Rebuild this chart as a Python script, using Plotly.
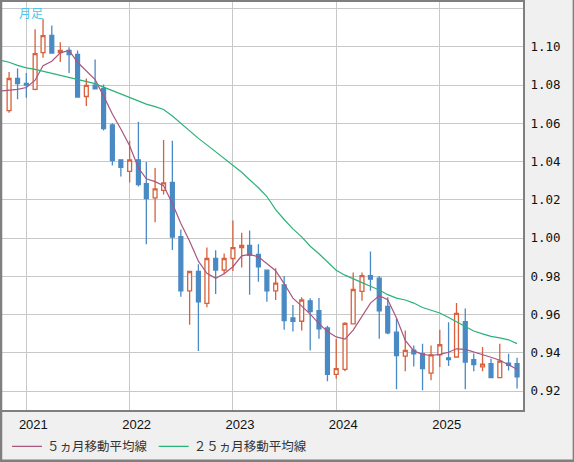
"""Monthly candlestick chart with 5- and 25-month moving averages."""
import plotly.graph_objects as go

# candles: Nov 2020 .. Oct 2025 (monthly)
DATES = [f"{y}-{m:02d}-01" for y in range(2020, 2026) for m in range(1, 13)]
DATES = DATES[DATES.index("2020-11-01"):DATES.index("2025-10-01") + 1]

OPEN = [1.0666, 1.0834, 1.0808, 1.0777, 1.0969, 1.1059, 1.0969, 1.0981, 1.0960, 1.0740,
        1.0799, 1.0782, 1.0591, 1.0409, 1.0348, 1.0409, 1.0284, 1.0210, 1.0249, 1.0291,
        1.0007, 0.9724, 0.9825, 0.9658, 0.9893, 0.9833, 0.9893, 0.9950, 0.9962, 0.9915,
        0.9832, 0.9724, 0.9755, 0.9582, 0.9565, 0.9672, 0.9620, 0.9530, 0.9287, 0.9313,
        0.9551, 0.9721, 0.9804, 0.9790, 0.9643, 0.9508, 0.9383, 0.9414, 0.9395, 0.9294,
        0.9389, 0.9374, 0.9378, 0.9563, 0.9364, 0.9326, 0.9343, 0.9270, 0.9346, 0.9343]
HIGH = [1.0868, 1.0886, 1.0863, 1.1091, 1.1146, 1.1111, 1.1023, 1.0998, 1.0981, 1.0834,
        1.0934, 1.0803, 1.0600, 1.0409, 1.0509, 1.0608, 1.0397, 1.0366, 1.0513, 1.0508,
        1.0045, 0.9825, 0.9863, 0.9950, 0.9936, 0.9919, 1.0092, 1.0028, 1.0040, 0.9967,
        0.9832, 0.9842, 0.9802, 0.9650, 0.9690, 0.9685, 0.9686, 0.9542, 0.9473, 0.9560,
        0.9820, 0.9820, 0.9929, 0.9802, 0.9690, 0.9580, 0.9516, 0.9438, 0.9447, 0.9438,
        0.9520, 0.9560, 0.9660, 0.9632, 0.9396, 0.9430, 0.9369, 0.9447, 0.9395, 0.9374]
LOW = [1.0655, 1.0726, 1.0733, 1.0772, 1.0943, 1.0967, 1.0920, 1.0863, 1.0733, 1.0690,
       1.0780, 1.0562, 1.0379, 1.0322, 1.0291, 1.0270, 0.9967, 1.0083, 1.0227, 0.9937,
       0.9693, 0.9547, 0.9409, 0.9638, 0.9707, 0.9811, 0.9828, 0.9846, 0.9703, 0.9771,
       0.9667, 0.9676, 0.9521, 0.9511, 0.9516, 0.9412, 0.9473, 0.9251, 0.9265, 0.9303,
       0.9551, 0.9672, 0.9724, 0.9473, 0.9497, 0.9209, 0.9303, 0.9329, 0.9204, 0.9256,
       0.9326, 0.9331, 0.9378, 0.9209, 0.9303, 0.9303, 0.9270, 0.9270, 0.9308, 0.9213]
CLOSE = [1.0834, 1.0808, 1.0799, 1.0964, 1.1058, 1.0967, 1.0981, 1.0959, 1.0737, 1.0798,
         1.0780, 1.0572, 1.0405, 1.0369, 1.0408, 1.0279, 1.0206, 1.0257, 1.0288, 1.0005,
         0.9724, 0.9825, 0.9667, 0.9893, 0.9833, 0.9893, 0.9950, 0.9962, 0.9910, 0.9849,
         0.9724, 0.9764, 0.9568, 0.9565, 0.9676, 0.9615, 0.9525, 0.9287, 0.9317, 0.9554,
         0.9731, 0.9804, 0.9785, 0.9620, 0.9504, 0.9386, 0.9412, 0.9395, 0.9317, 0.9389,
         0.9442, 0.9365, 0.9606, 0.9352, 0.9339, 0.9341, 0.9270, 0.9357, 0.9334, 0.9274]

# moving averages start one month earlier (Oct 2020)
MA_DATES = ["2020-10-01"] + DATES
MA5 = [1.0768, 1.0772, 1.0777, 1.0787, 1.0825, 1.0901, 1.0924, 1.0968, 1.0981, 1.0919,
       1.0875, 1.0828, 1.0742, 1.0648, 1.0570, 1.0482, 1.0367, 1.0310, 1.0295, 1.0274,
       1.0180, 1.0076, 0.9983, 0.9879, 0.9816, 0.9790, 0.9813, 0.9850, 0.9907, 0.9915,
       0.9902, 0.9866, 0.9829, 0.9762, 0.9686, 0.9644, 0.9602, 0.9553, 0.9511, 0.9483,
       0.9472, 0.9519, 0.9589, 0.9660, 0.9699, 0.9678, 0.9582, 0.9465, 0.9410, 0.9392,
       0.9386, 0.9392, 0.9403, 0.9421, 0.9418, 0.9405, 0.9390, 0.9377, 0.9361, 0.9335,
       0.9314]
MA25 = [1.0929, 1.0919, 1.0903, 1.0890, 1.0882, 1.0872, 1.0859, 1.0849, 1.0838, 1.0828,
        1.0817, 1.0807, 1.0789, 1.0771, 1.0750, 1.0734, 1.0716, 1.0700, 1.0687, 1.0672,
        1.0638, 1.0599, 1.0557, 1.0521, 1.0487, 1.0451, 1.0412, 1.0378, 1.0344, 1.0305,
        1.0263, 1.0217, 1.0149, 1.0097, 1.0048, 1.0006, 0.9957, 0.9918, 0.9876, 0.9832,
        0.9806, 0.9785, 0.9767, 0.9748, 0.9728, 0.9704, 0.9686, 0.9676, 0.9660, 0.9637,
        0.9621, 0.9608, 0.9585, 0.9563, 0.9540, 0.9514, 0.9499, 0.9486, 0.9478, 0.9468,
        0.9448]

# price axis: gridlines up to 1.12, labels only to 1.10
Y_TICKS = [0.92, 0.94, 0.96, 0.98, 1.00, 1.02, 1.04, 1.06, 1.08, 1.10, 1.12]
Y_LABELS = ["0.92", "0.94", "0.96", "0.98", "1.00", "1.02", "1.04", "1.06", "1.08", "1.10", ""]

RED = "#d9603b"
BLUE = "#4a8ac4"
PURPLE = "#a8577f"
GREEN = "#2bb27a"
GRID = "#c8c8c8"

W, H = 574, 462
M = dict(l=1, r=51, t=0, b=51)
PW, PH = W - M["l"] - M["r"], H - M["t"] - M["b"]

fig = go.Figure()
fig.add_trace(go.Candlestick(
    x=DATES, open=OPEN, high=HIGH, low=LOW, close=CLOSE,
    increasing=dict(line=dict(color=RED, width=1.3), fillcolor="white"),
    decreasing=dict(line=dict(color=BLUE, width=1.3), fillcolor=BLUE),
    whiskerwidth=0, showlegend=False, hoverinfo="skip",
))
fig.add_trace(go.Scatter(x=MA_DATES, y=MA5, mode="lines", name="５ヵ月移動平均線",
                         line=dict(color=PURPLE, width=1.2), legend="legend"))
fig.add_trace(go.Scatter(x=MA_DATES, y=MA25, mode="lines", name="２５ヵ月移動平均線",
                         line=dict(color=GREEN, width=1.2), legend="legend2"))

fig.add_annotation(text="月足", xref="paper", yref="paper", x=15 / PW, y=1 - 0.5 / PH,
                   xanchor="left", yanchor="top", showarrow=False,
                   font=dict(family="Noto Sans CJK JP", size=12, color="#4dc3f0"))

# outer frame of the whole picture
fig.add_shape(type="rect", xref="paper", yref="paper",
              x0=-M["l"] / PW, x1=(PW + M["r"]) / PW,
              y0=-M["b"] / PH, y1=1 + 5 / PH,
              line=dict(color="#7f7f7f", width=2.5))

legend_style = dict(orientation="h", y=-37 / PH, xanchor="left", yanchor="middle",
                    bgcolor="rgba(0,0,0,0)", itemwidth=30,
                    font=dict(family="Noto Sans CJK JP", size=12.5, color="#333333"))

fig.update_layout(
    width=W, height=H, margin=M,
    paper_bgcolor="#f0f0f0", plot_bgcolor="white",
    showlegend=True,
    legend=dict(x=5 / PW, **legend_style),
    legend2=dict(x=152 / PW, **legend_style),
    xaxis=dict(
        type="date", range=["2020-10-07", "2025-10-22"],
        rangeslider=dict(visible=False),
        tick0="2021-01-01", dtick="M12", tickformat="%Y",
        showgrid=True, gridcolor=GRID, gridwidth=1.3, zeroline=False,
        showline=True, mirror=True, linecolor="#7f7f7f", linewidth=2,
        ticks="", ticklabelshift=7, ticklabelstandoff=1,
        tickfont=dict(family="Liberation Sans", size=13, color="#111111"),
    ),
    yaxis=dict(
        side="right", range=[0.9101, 1.1234], tickvals=Y_TICKS, ticktext=Y_LABELS,
        showgrid=True, gridcolor=GRID, gridwidth=1.3, zeroline=False,
        showline=True, mirror=True, linecolor="#7f7f7f", linewidth=2,
        ticks="", ticklabelstandoff=3,
        tickfont=dict(family="DejaVu Sans Mono", size=12.5, color="#111111"),
    ),
)

fig.write_html("out.html", config={"displayModeBar": False},
               post_script="document.body.style.margin='0';")
